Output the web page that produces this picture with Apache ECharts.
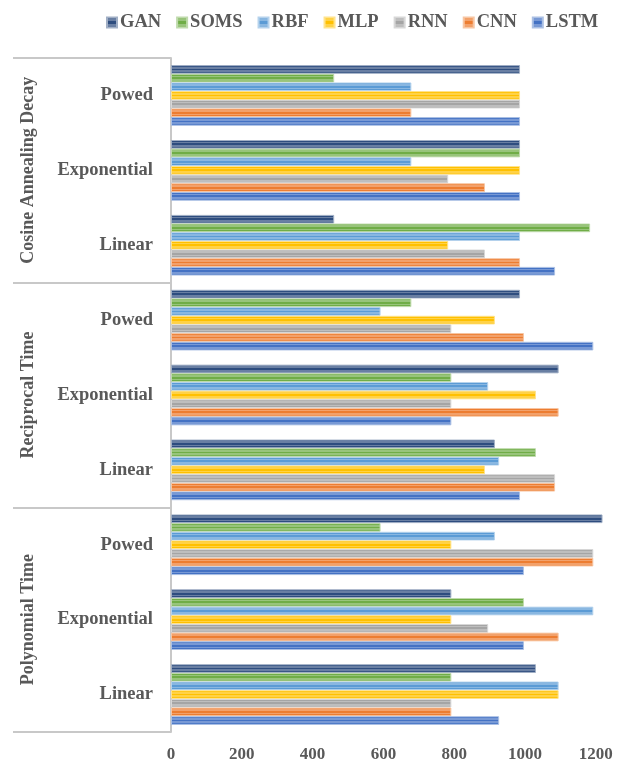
<!DOCTYPE html>
<html>
<head>
<meta charset="utf-8">
<script src="https://cdn.jsdelivr.net/npm/echarts@6/dist/echarts.min.js"></script>
<style>html,body{margin:0;padding:0;background:#fff}#c{width:628px;height:763px}</style>
</head>
<body>
<div id="c"></div>
<script>
const groups = ['Cosine Annealing Decay', 'Reciprocal Time', 'Polynomial Time'];
const subCategories = ['Powed', 'Exponential', 'Linear'];
const seriesNames = ['GAN', 'SOMS', 'RBF', 'MLP', 'RNN', 'CNN', 'LSTM'];
const seriesColors = ['#2E4D7F', '#70AD47', '#5B9BD5', '#FFC000', '#A5A5A5', '#ED7D31', '#4472C4'];
// values in category order top-to-bottom
const GAN  = [986, 986, 461, 986, 1095, 915, 1219, 792, 1031];
const SOMS = [461, 986, 1184, 679, 792, 1031, 592, 997, 792];
const RBF  = [679, 679, 986, 592, 896, 927, 915, 1193, 1095];
const MLP  = [986, 986, 783, 915, 1031, 887, 792, 792, 1095];
const RNN  = [986, 783, 887, 792, 792, 1085, 1193, 896, 792];
const CNN  = [679, 887, 986, 997, 1095, 1085, 1193, 1095, 792];
const LSTM = [986, 986, 1085, 1193, 792, 986, 997, 997, 927];
const xTicks = [0, 200, 400, 600, 800, 1000, 1200];

const seriesValues = [GAN, SOMS, RBF, MLP, RNN, CNN, LSTM];
const categories = [];
groups.forEach(g => subCategories.forEach(s => categories.push(g + '|' + s)));

function tint(hex, f) {
  const n = parseInt(hex.slice(1), 16);
  let r = (n >> 16) & 255, g = (n >> 8) & 255, b = n & 255;
  r = Math.round(r + (255 - r) * f); g = Math.round(g + (255 - g) * f); b = Math.round(b + (255 - b) * f);
  return 'rgb(' + r + ',' + g + ',' + b + ')';
}
function stripes(hex) {
  const light = tint(hex, 0.28);
  const stops = [];
  const n = 5;
  for (let i = 0; i < n; i++) {
    const c = i % 2 === 0 ? hex : light;
    stops.push({offset: i / n, color: c});
    stops.push({offset: (i + 1) / n, color: c});
  }
  return new echarts.graphic.LinearGradient(0, 0, 0, 1, stops);
}

const font = 'Liberation Serif';
const txt = '#595959';
const chart = echarts.init(document.getElementById('c'));
chart.setOption({
  animation: false,
  backgroundColor: '#fff',
  textStyle: {fontFamily: font},
  legend: {
    left: 101, top: 8,
    itemWidth: 10, itemHeight: 10, itemGap: 15,
    icon: 'rect',
    textStyle: {fontFamily: font, fontSize: 18.5, fontWeight: 'bold', color: txt, padding: [0, 0, 0, -2]},
    data: seriesNames
  },
  grid: {left: 171, top: 58, width: 1240 * 0.354, height: 675, containLabel: false},
  xAxis: {
    type: 'value', min: 0, max: 1240, interval: 200,
    splitLine: {show: false},
    axisLine: {show: false}, axisTick: {show: false},
    axisLabel: {
      fontFamily: font, fontSize: 17, fontWeight: 'bold', color: txt, margin: 14,
      formatter: v => (xTicks.indexOf(v) >= 0 ? String(v) : '')
    }
  },
  yAxis: [{
    type: 'category', inverse: true, data: categories,
    axisLine: {show: true, lineStyle: {color: '#C8C8C8', width: 2}},
    axisTick: {show: false},
    axisLabel: {
      interval: 0,
      fontFamily: font, fontSize: 18.5, fontWeight: 'bold', color: txt, margin: 18,
      formatter: v => v.split('|')[1]
    }
  }, {
    type: 'category', inverse: true, data: groups, position: 'left', offset: 0,
    axisLine: {show: false},
    axisTick: {show: true, interval: 0, length: 158, lineStyle: {color: '#C8C8C8', width: 2}},
    axisLabel: {
      interval: 0,
      fontFamily: font, fontSize: 18, fontWeight: 'bold', color: txt, rotate: 90, margin: 134
    }
  }],
  series: seriesNames.map((name, i) => ({
    name, type: 'bar', yAxisIndex: 0,
    data: seriesValues[i],
    barGap: '0%', barCategoryGap: '19%',
    itemStyle: {color: stripes(seriesColors[i]), borderColor: tint(seriesColors[i], 0.55), borderWidth: 1}
  }))
});
</script>
</body>
</html>
